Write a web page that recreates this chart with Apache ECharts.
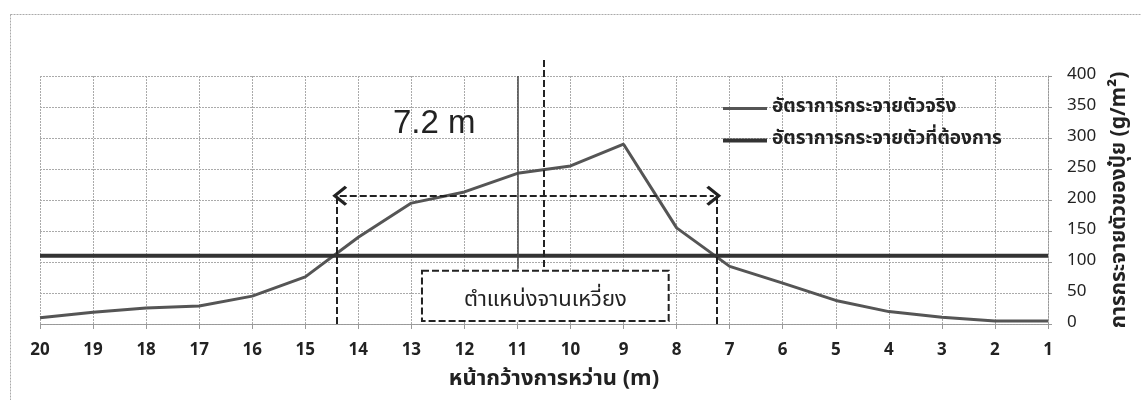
<!DOCTYPE html>
<html>
<head>
<meta charset="utf-8">
<script src="https://cdn.jsdelivr.net/npm/echarts@6/dist/echarts.min.js"></script>
<style>html,body{margin:0;padding:0;background:#fff;}#c{width:1141px;height:400px;}</style>
</head>
<body>
<div id="c"></div>
<script>
// ---- data ----
var widths = [20,19,18,17,16,15,14,13,12,11,10,9,8,7,6,5,4,3,2,1];
var actualRate = [10,19,26,29,45,76,140,195,213,243,255,290,155,93,66,38,20,11,5,5];
var targetRate = [110,110,110,110,110,110,110,110,110,110,110,110,110,110,110,110,110,110,110,110];
var seriesNames = ['อัตราการกระจายตัวจริง','อัตราการกระจายตัวที่ต้องการ'];
var xAxisName = 'หน้ากว้างการหว่าน (m)';
var yAxisName = 'การกระจายตัวของปุ๋ย (g/m²)';
var boxLabel = 'ตำแหน่งจานเหวี่ยง';
var spanLabel = '7.2 m';
// annotation positions (data units)
var spanLeft = 14.4, spanRight = 7.25, spanY = 207;
var centerX = 10.5;

var FONT = "'Noto Sans Thai','Noto Sans','DejaVu Sans',sans-serif";
var chevron = 'path://M0,10 L10,0 L20,10 L18,12 L10,4 L2,12 Z';

function pairs(ys){ return widths.map(function(x,i){ return [x, ys[i]]; }); }

var chart = echarts.init(document.getElementById('c'));
chart.setOption({
  animation: false,
  backgroundColor: '#fff',
  grid: { left: 40, right: 93, top: 76, bottom: 76 },
  legend: {
    orient: 'vertical', left: 718, top: 93, itemWidth: 44, itemHeight: 4, itemGap: 11,
    data: [
      { name: seriesNames[0], icon: 'path://M0,0 L44,0 L44,3 L0,3 Z' },
      { name: seriesNames[1], icon: 'path://M0,0 L44,0 L44,4 L0,4 Z' }
    ],
    textStyle: { fontFamily: FONT, fontSize: 19, lineHeight: 21, fontWeight: 'bold', color: '#222' }
  },
  xAxis: {
    type: 'value', min: 1, max: 20, interval: 1, inverse: true,
    name: xAxisName, nameLocation: 'middle', nameGap: 46,
    nameTextStyle: { fontFamily: FONT, fontSize: 22, fontWeight: 'bold', color: '#222', padding: [0, 0, 0, 20] },
    axisLine: { show: true, lineStyle: { color: '#999', type: [2, 1] } },
    axisTick: { show: true, length: 5, lineStyle: { color: '#999' } },
    axisLabel: { fontFamily: FONT, fontSize: 17, fontWeight: 'bold', color: '#222', margin: 19 },
    splitLine: { show: true, lineStyle: { color: '#aaa', type: [2, 1] } }
  },
  yAxis: {
    type: 'value', position: 'right', min: 0, max: 400, interval: 50,
    name: yAxisName, nameLocation: 'middle', nameGap: 62, nameRotate: 90,
    nameTextStyle: { fontFamily: FONT, fontSize: 21, fontWeight: 'bold', color: '#222' },
    axisLine: { show: true, lineStyle: { color: '#999', type: [2, 1] } },
    axisTick: { show: true, length: 4, lineStyle: { color: '#999' } },
    axisLabel: { fontFamily: FONT, fontSize: 17, color: '#222', margin: 19 },
    splitLine: { show: true, lineStyle: { color: '#aaa', type: [2, 1] } }
  },
  series: [
    {
      name: seriesNames[0], type: 'line', data: pairs(actualRate),
      symbol: 'none', clip: false, z: 4,
      lineStyle: { color: '#555', width: 3 }, itemStyle: { color: '#555' }
    },
    {
      name: seriesNames[1], type: 'line', data: pairs(targetRate),
      symbol: 'none', clip: false, z: 4,
      lineStyle: { color: '#333', width: 4 }, itemStyle: { color: '#333' }
    },
    {
      name: 'annot', type: 'line', data: [], clip: false, z: 3,
      markArea: {
        silent: true,
        itemStyle: { color: '#fff', borderColor: '#222', borderType: [7, 3], borderWidth: 2 },
        label: { show: true, position: 'inside', offset: [0, 6], fontFamily: FONT, fontSize: 22, color: '#222' },
        data: [[{ coord: [12.8, 86], name: boxLabel }, { coord: [8.15, 5] }]]
      },
      markLine: {
        silent: true, symbol: 'none', animation: false,
        label: { show: false },
        lineStyle: { color: '#222', width: 2, type: [7, 3] },
        data: [
          [{ coord: [spanLeft, 0] }, { coord: [spanLeft, spanY] }],
          [{ coord: [spanRight, 0] }, { coord: [spanRight, spanY] }],
          [{ coord: [spanLeft - 0.05, spanY], symbol: chevron, symbolSize: [20, 15] },
           { coord: [spanRight + 0.05, spanY], symbol: chevron, symbolSize: [20, 15] }],
          [{ coord: [11, 89], lineStyle: { type: 'solid', width: 1.5, color: '#444' } },
           { coord: [11, 400] }]
        ]
      },
      markPoint: {
        silent: true, symbol: 'circle', symbolSize: 1,
        itemStyle: { color: 'transparent' },
        label: { show: true, position: 'inside', fontFamily: "'Liberation Sans',Arial,sans-serif", fontSize: 33, color: '#222', formatter: spanLabel },
        data: [{ coord: [12.57, 322] }]
      }
    }
  ]
});

// outer frame + center dashed marker extending above plot (positions derived from axes)
var cTop = chart.convertToPixel({ xAxisIndex: 0, yAxisIndex: 0 }, [centerX, 426]);
var cBot = chart.convertToPixel({ xAxisIndex: 0, yAxisIndex: 0 }, [centerX, 86]);
chart.setOption({
  graphic: [
    {
      type: 'rect', silent: true, z: -1,
      shape: { x: 10.5, y: 14.5, width: 1300, height: 600 },
      style: { fill: 'none', stroke: '#aaa', lineWidth: 1, lineDash: [2, 1] }
    },
    {
      type: 'line', silent: true, z: 10,
      shape: { x1: cTop[0], y1: cTop[1], x2: cBot[0], y2: cBot[1] },
      style: { stroke: '#222', lineWidth: 2, lineDash: [7, 3] }
    }
  ]
});
</script>
</body>
</html>
